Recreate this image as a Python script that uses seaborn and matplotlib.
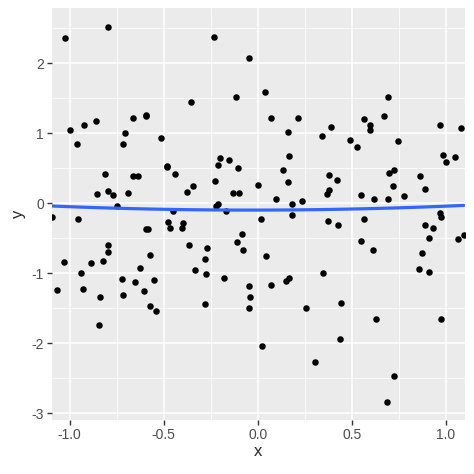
import numpy as np
import pandas as pd
import matplotlib
matplotlib.use("Agg")
import matplotlib.pyplot as plt
import seaborn as sns

# points
x = [-1.023, -0.798, -0.997, -0.961, -0.926, -0.860, -0.814, -0.856, -0.798, -0.771,
     -0.750, -0.715, -0.706, -0.690, -0.663, -0.663, -0.637, -0.594, -0.594, -0.514,
     -0.484, -0.481, -0.440, -0.449, -0.231, -0.046, -0.355, -0.114, 0.037, 0.072,
     0.216, 0.161, 0.342, 0.392, -0.199, -0.213, -0.154, -0.105, -0.229, -0.344,
     -0.374, -0.133, -0.098, 0.000, 0.133, 0.165, 0.161, 0.099, 0.182, 0.237,
     0.182, -0.213, -0.222, -0.169, 0.381, 0.367, 0.381, 0.424, 0.493, 0.527,
     0.565, 0.596, 0.599, 0.670, 0.691, 0.745, 0.698, 0.723, 0.720, 0.551,
     0.620, 0.691, 0.777, 0.863, 0.890, 0.970, 1.080, 0.987, 1.002, 1.051,
     -1.096, -0.957, -1.030, -1.066, -0.938, -0.927, -0.888, -0.821, -0.795, -0.795,
     -0.837, -0.844, -0.722, -0.715, -0.651, -0.624, -0.605, -0.594, -0.582, -0.574,
     -0.574, -0.553, -0.543, -0.475, -0.465, -0.399, -0.404, -0.367, -0.271, -0.282,
     -0.335, -0.275, -0.282, -0.178, -0.084, -0.112, -0.078, -0.046, -0.043, -0.048,
     0.016, 0.046, 0.072, 0.021, 0.152, 0.168, 0.376, 0.347, 0.259, 0.305,
     0.429, 0.441, 0.438, 0.567, 0.551, 0.613, 0.628, 0.723, 0.686, 0.860,
     0.876, 0.911, 0.909, 0.890, 0.934, 0.970, 0.974, 0.975, 1.064, 1.097]
y = [2.361, 2.519, 1.047, 0.851, 1.123, 1.171, 0.419, 0.133, 0.176, 0.114,
     -0.034, 0.843, 1.000, 0.147, 1.223, 0.390, 0.390, 1.265, 1.242, 0.933,
     0.537, 0.514, 0.419, -0.105, 2.371, 2.071, 1.443, 1.514, 1.586, 1.214,
     1.214, 1.014, 0.957, 1.090, 0.652, 0.552, 0.614, 0.509, 0.314, 0.247,
     0.157, 0.151, 0.147, 0.266, 0.480, 0.671, 0.304, 0.061, -0.014, 0.033,
     -0.162, -0.010, -0.040, -0.110, 0.404, 0.129, 0.186, 0.333, 0.909, 0.809,
     1.200, 1.119, 1.043, 1.243, 1.523, 0.890, 0.437, 0.476, 0.247, 0.114,
     0.066, 0.066, 0.104, 0.386, 0.200, 1.119, 1.080, 0.695, 0.595, 0.661,
     -0.200, -0.229, -0.839, -1.234, -0.996, -1.229, -0.849, -0.829, -0.591, -0.700,
     -1.343, -1.739, -1.086, -1.306, -1.120, -0.920, -1.253, -0.367, -0.367, -0.743,
     -1.471, -1.096, -1.543, -0.263, -0.357, -0.277, -0.353, -0.600, -0.639, -0.791,
     -0.953, -1.014, -1.434, -1.067, -0.443, -0.549, -0.671, -1.181, -1.334, -1.500,
     -0.220, -0.749, -1.167, -2.039, -1.106, -1.070, -0.249, -0.996, -1.500, -2.267,
     -0.305, -1.420, -1.943, -0.224, -0.534, -0.667, -1.653, -2.471, -2.834, -0.939,
     -0.714, -0.496, -0.986, -0.305, -0.348, -0.134, -0.190, -1.653, -0.505, -0.453]

df = pd.DataFrame({"x": x, "y": y})

sns.set_theme(style="darkgrid", rc={
    "axes.facecolor": "#EBEBEB",
    "grid.color": "white",
    "xtick.color": "#333333",
    "ytick.color": "#333333",
    "xtick.labelcolor": "#4D4D4D",
    "ytick.labelcolor": "#4D4D4D",
    "xtick.bottom": True,
    "ytick.left": True,
    "xtick.major.size": 3.5,
    "ytick.major.size": 3.5,
    "xtick.major.width": 1.0,
    "ytick.major.width": 1.0,
    "xtick.major.pad": 2,
    "ytick.major.pad": 2,
})
plt.rcParams["font.family"] = ["Liberation Sans", "DejaVu Sans"]

fig, ax = plt.subplots(figsize=(4.74, 4.74), dpi=100)
fig.subplots_adjust(left=0.109, right=0.981, top=0.9825, bottom=0.114)

sns.scatterplot(data=df, x="x", y="y", color="black", s=22, linewidth=0, ax=ax)
# smooth trend line (quadratic fit, no band)
sns.regplot(data=df, x="x", y="y", order=2, ci=None, scatter=False,
            line_kws={"color": "#3366FF", "linewidth": 2.3}, ax=ax)

ax.set_xlim(-1.096, 1.103)
ax.set_ylim(-3.096, 2.786)
ax.set_xticks([-1.0, -0.5, 0.0, 0.5, 1.0])
ax.set_xticklabels(["-1.0", "-0.5", "0.0", "0.5", "1.0"])
ax.set_yticks([-3, -2, -1, 0, 1, 2])
ax.set_yticklabels(["-3", "-2", "-1", "0", "1", "2"])
ax.set_xticks([-0.75, -0.25, 0.25, 0.75], minor=True)
ax.set_yticks([-2.5, -1.5, -0.5, 0.5, 1.5, 2.5], minor=True)
ax.tick_params(axis="both", which="major", labelsize=10)
ax.tick_params(axis="both", which="minor", length=0)
ax.grid(which="major", color="white", linewidth=1.1)
ax.grid(which="minor", color="white", linewidth=0.55)
ax.set_xlabel("x", fontsize=12, labelpad=2)
ax.set_ylabel("y", fontsize=12, labelpad=4)
for s in ax.spines.values():
    s.set_visible(False)

fig.savefig("out.png", dpi=100)
